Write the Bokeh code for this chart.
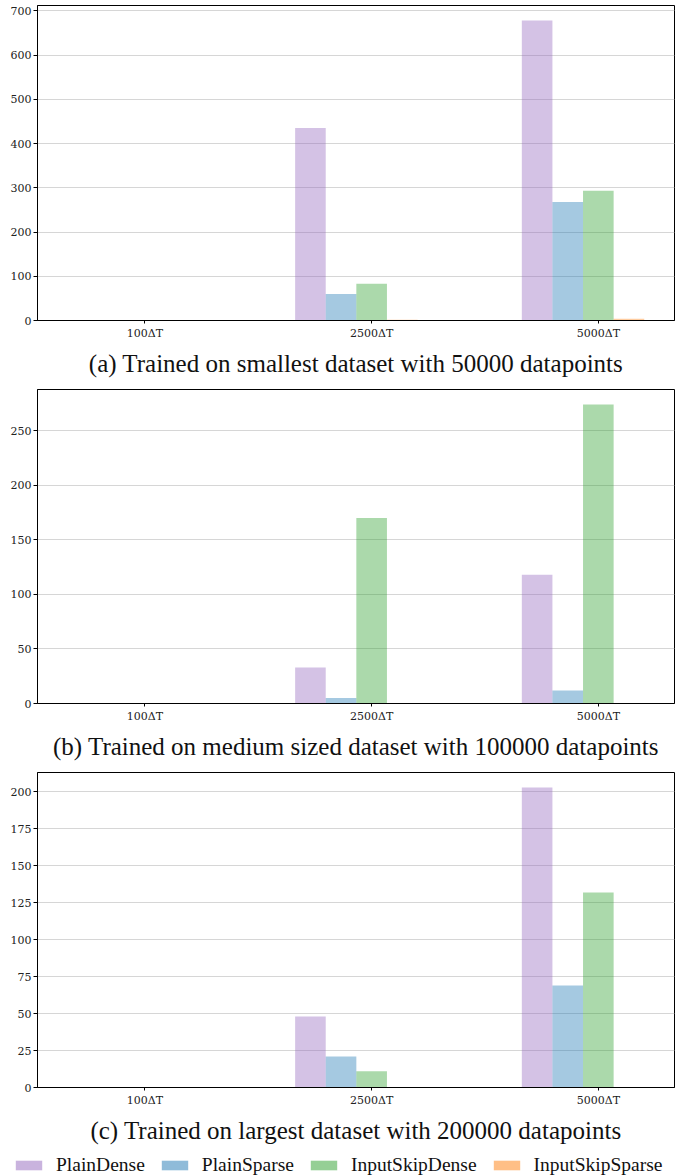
from bokeh.plotting import figure
from bokeh.layouts import column
from bokeh.models import FixedTicker, Title, Legend, LegendItem, Range1d, ColumnDataSource
from bokeh.embed import file_html
from bokeh.resources import INLINE

# Prediction horizons on the x axis and the four model variants
horizons = ["100ΔT", "2500ΔT", "5000ΔT"]
models = ["PlainDense", "PlainSparse", "InputSkipDense", "InputSkipSparse"]
colors = ["#9467bd", "#1f77b4", "#2ca02c", "#ff7f0e"]

# (a) smallest dataset, 50000 datapoints
small_plain_dense = [0.9, 435, 678]
small_plain_sparse = [0.5, 60, 268]
small_skip_dense = [0.6, 83, 293]
small_skip_sparse = [1.0, 1.5, 4.0]

# (b) medium dataset, 100000 datapoints
medium_plain_dense = [0.3, 33, 118]
medium_plain_sparse = [0.2, 5, 12]
medium_skip_dense = [0.3, 170, 274]
medium_skip_sparse = [0.1, 0.4, 0.5]

# (c) largest dataset, 200000 datapoints
large_plain_dense = [0.3, 48, 203]
large_plain_sparse = [0.2, 21, 69]
large_skip_dense = [0.2, 11, 132]
large_skip_sparse = [0.1, 0.3, 0.4]

captions = [
    "(a) Trained on smallest dataset with 50000 datapoints",
    "(b) Trained on medium sized dataset with 100000 datapoints",
    "(c) Trained on largest dataset with 200000 datapoints",
]
y_ticks = [
    [0, 100, 200, 300, 400, 500, 600, 700],
    [0, 50, 100, 150, 200, 250],
    [0, 25, 50, 75, 100, 125, 150, 175, 200],
]

panels = [
    [small_plain_dense, small_plain_sparse, small_skip_dense, small_skip_sparse],
    [medium_plain_dense, medium_plain_sparse, medium_skip_dense, medium_skip_sparse],
    [large_plain_dense, large_plain_sparse, large_skip_dense, large_skip_sparse],
]

BAR_W = 0.135
OFFSETS = [-2 * BAR_W, -BAR_W, 0.0, BAR_W]
SERIF = "DejaVu Serif"
CAPTION_FONT = "Liberation Serif"


def make_panel(series, ticks, caption, frame_h):
    ymax = max(max(s) for s in series) * 1.05
    p = figure(
        frame_width=637, frame_height=frame_h,
        x_range=Range1d(-0.474, 2.336), y_range=Range1d(0, ymax),
        output_backend="svg", toolbar_location=None,
        min_border_left=37, min_border_right=14,
        min_border_top=5, min_border_bottom=64,
    )
    p.background_fill_color = "white"
    p.border_fill_color = "white"
    p.outline_line_color = "black"
    p.outline_line_width = 1
    p.outline_line_alpha = 1

    for vals, off, col in zip(series, OFFSETS, colors):
        src = ColumnDataSource(dict(x=[i + off for i in range(len(horizons))], top=vals))
        p.vbar(x="x", top="top", bottom=0, width=BAR_W, source=src,
               fill_color=col, fill_alpha=0.4, line_color=None)

    p.xgrid.visible = False
    p.ygrid.grid_line_color = "#d6d6d6"
    p.ygrid.grid_line_width = 1

    p.yaxis.ticker = FixedTicker(ticks=ticks)
    p.xaxis.ticker = FixedTicker(ticks=[0, 1, 2])
    p.xaxis.major_label_overrides = {i: h for i, h in enumerate(horizons)}
    for ax in (p.xaxis, p.yaxis):
        ax.axis_line_color = "black"
        ax.axis_line_width = 1
        ax.major_tick_line_color = "black"
        ax.minor_tick_line_color = None
        ax.major_tick_in = 0
        ax.major_label_text_font = SERIF
        ax.major_label_text_font_size = "11px"
        ax.major_label_text_color = "#222222"
    p.yaxis.major_tick_out = 4
    p.yaxis.major_label_standoff = 2
    p.xaxis.major_tick_out = 3
    p.xaxis.major_label_standoff = 3

    p.add_layout(Title(text=caption, align="center", text_font=CAPTION_FONT,
                       text_font_size="25px", text_font_style="normal",
                       text_color="#111111", standoff=11), "below")
    return p


def make_legend_strip():
    p = figure(
        width=688, height=25, x_range=Range1d(0, 1), y_range=Range1d(0, 1),
        output_backend="svg", toolbar_location=None,
        x_axis_location=None, y_axis_location=None,
        min_border=0, outline_line_color=None,
    )
    p.frame_align = False
    p.xgrid.visible = False
    p.ygrid.visible = False
    swatches = []
    for col in colors:
        # drawn outside the visible range; only its legend swatch shows
        swatches.append(p.vbar(x=[5], top=[1], bottom=0, width=0.1,
                               fill_color=col, fill_alpha=0.5, line_color=None))
    legend = Legend(
        items=[LegendItem(label=m, renderers=[r]) for m, r in zip(models, swatches)],
        orientation="horizontal", location=(12, 0),
        glyph_width=33, glyph_height=12, label_standoff=11, spacing=13,
        label_text_font=CAPTION_FONT, label_text_font_size="19.5px",
        label_text_color="#111111",
        border_line_color=None, background_fill_alpha=0,
        padding=0, margin=0,
    )
    p.add_layout(legend, "center")
    return p


p1 = make_panel(panels[0], y_ticks[0], captions[0], 315)
p2 = make_panel(panels[1], y_ticks[1], captions[1], 314)
p3 = make_panel(panels[2], y_ticks[2], captions[2], 315)
strip = make_legend_strip()

layout = column(p1, p2, p3, strip, spacing=0)
open("out.html", "w").write(file_html(layout, INLINE))
